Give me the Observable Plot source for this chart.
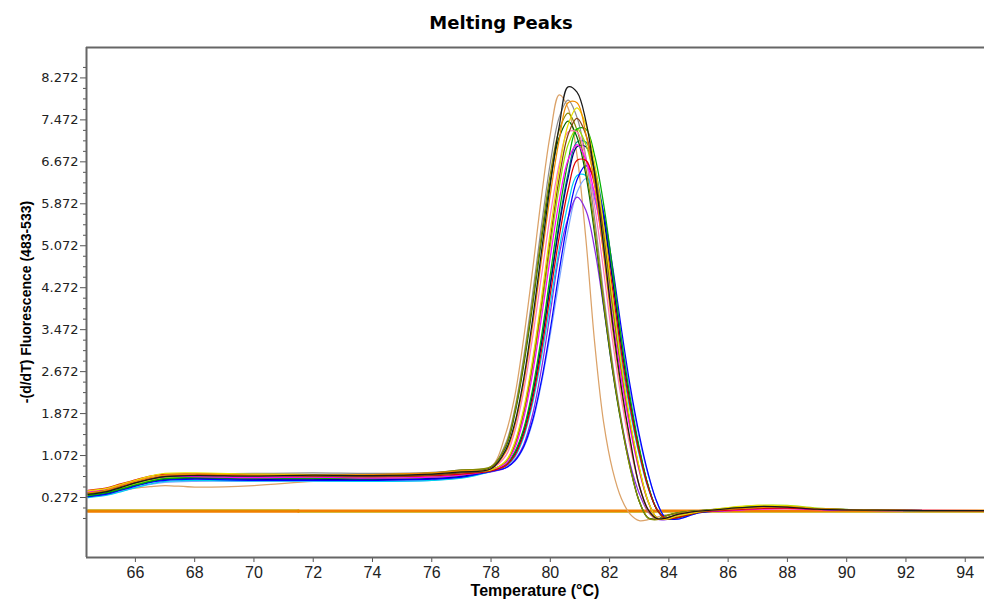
<!DOCTYPE html>
<html><head><meta charset="utf-8">
<script src="https://cdn.jsdelivr.net/npm/d3@7"></script>
<script src="https://cdn.jsdelivr.net/npm/@observablehq/plot@0.6"></script>
<style>
body{margin:0;background:#fff;}
#wrap{position:relative;width:984px;height:608px;overflow:hidden;}
#chart{position:absolute;left:0;top:0;}
#title{position:absolute;left:0;width:1002px;top:14px;text-align:center;font:bold 18px "DejaVu Sans",sans-serif;line-height:18px;color:#000;}
#ylab{position:absolute;left:26px;top:302px;transform:translate(-50%,-50%) rotate(-90deg);white-space:nowrap;font:bold 14px "Liberation Sans",Arial,sans-serif;color:#000;}
#xlab{position:absolute;left:535px;top:591px;transform:translate(-50%,-50%);white-space:nowrap;font:bold 16px "Liberation Sans",Arial,sans-serif;color:#000;}
g[aria-label="y-axis tick label"]{font-family:"DejaVu Sans",sans-serif;font-size:13px;fill:#222;}
g[aria-label="x-axis tick label"]{font-family:"Liberation Sans",Arial,sans-serif;font-size:16px;fill:#222;}
</style></head>
<body>
<div id="wrap">
  <div id="chart"></div>
  <div id="title">Melting Peaks</div>
  <div id="ylab">-(d/dT) Fluorescence (483-533)</div>
  <div id="xlab">Temperature (°C)</div>
</div>
<script>
// Temperature grid (°C) shared by all samples
const temps = [64.4, 65, 65.5, 66, 66.5, 67, 68, 70, 72, 74, 76, 77,
  78, 78.5, 78.8, 79.1, 79.4, 79.7, 80, 80.3, 80.6, 80.9, 81.2, 81.5, 81.8, 82.1, 82.4, 82.7, 83, 83.3, 83.6, 83.9, 84.3, 85,
  86, 87, 88, 89, 91, 94.7];

// -(d/dT) fluorescence values, one array per sample
const tanSample = [0.30, 0.34, 0.40, 0.45, 0.48, 0.50, 0.47, 0.50, 0.58, 0.62, 0.66, 0.72,
  0.85, 1.50, 2.20, 3.30, 4.60, 6.00, 7.20, 7.95, 7.70, 6.80, 5.20, 3.20, 1.70, 0.80, 0.25, -0.05, -0.17, -0.15, -0.10, -0.06, -0.03, 0.00,
  0.03, 0.06, 0.07, 0.05, 0.03, 0.02];
const graySample = [0.33, 0.38, 0.46, 0.55, 0.63, 0.69, 0.72, 0.73, 0.74, 0.73, 0.75, 0.80,
  0.86, 1.31, 1.96, 2.94, 4.14, 5.45, 6.65, 7.52, 7.85, 7.52, 6.76, 5.56, 4.14, 2.83, 1.74, 0.87, 0.20, -0.12, -0.14, -0.08, -0.02, 0.02,
  0.07, 0.10, 0.09, 0.06, 0.03, 0.02];
const lightBlueSample = [0.28, 0.32, 0.39, 0.46, 0.52, 0.56, 0.58, 0.58, 0.58, 0.58, 0.60, 0.65,
  0.77, 0.84, 0.96, 1.22, 1.70, 2.45, 3.38, 4.41, 5.38, 6.09, 6.35, 6.09, 5.47, 4.50, 3.35, 2.29, 1.41, 0.71, 0.18, -0.12, -0.14, -0.02,
  0.06, 0.10, 0.10, 0.06, 0.03, 0.02];
const purpleSample = [0.34, 0.38, 0.45, 0.53, 0.60, 0.64, 0.65, 0.63, 0.62, 0.62, 0.64, 0.68,
  0.76, 0.84, 0.99, 1.28, 1.85, 2.72, 3.80, 4.90, 5.60, 6.00, 5.75, 5.00, 3.90, 2.70, 1.70, 0.90, 0.35, 0.00, -0.14, -0.15, -0.08, -0.01,
  0.02, 0.06, 0.07, 0.05, 0.02, 0.01];
const cyanSample = [0.27, 0.31, 0.38, 0.46, 0.53, 0.58, 0.60, 0.59, 0.59, 0.58, 0.60, 0.64,
  0.77, 0.87, 1.04, 1.42, 2.06, 2.95, 3.97, 5.01, 5.87, 6.41, 6.41, 5.96, 5.15, 4.06, 2.89, 1.90, 1.08, 0.45, 0.04, -0.13, -0.11, -0.01,
  0.07, 0.11, 0.10, 0.06, 0.03, 0.02];
const tealSample = [0.29, 0.34, 0.42, 0.50, 0.57, 0.61, 0.63, 0.62, 0.63, 0.62, 0.64, 0.69,
  0.79, 0.90, 1.12, 1.55, 2.26, 3.24, 4.37, 5.51, 6.45, 7.05, 7.05, 6.55, 5.66, 4.47, 3.18, 2.09, 1.19, 0.50, 0.04, -0.13, -0.11, -0.01,
  0.06, 0.10, 0.09, 0.05, 0.03, 0.02];
const navySample = [0.30, 0.35, 0.42, 0.50, 0.57, 0.62, 0.63, 0.62, 0.62, 0.61, 0.63, 0.67,
  0.79, 0.89, 1.10, 1.52, 2.22, 3.19, 4.31, 5.44, 6.37, 6.96, 6.96, 6.47, 5.59, 4.41, 3.14, 2.06, 1.18, 0.49, 0.04, -0.13, -0.11, -0.01,
  0.04, 0.08, 0.08, 0.05, 0.03, 0.02];
const blueSample = [0.29, 0.33, 0.41, 0.49, 0.56, 0.60, 0.62, 0.60, 0.60, 0.60, 0.62, 0.66,
  0.77, 0.84, 0.97, 1.24, 1.74, 2.50, 3.48, 4.59, 5.59, 6.33, 6.60, 6.33, 5.69, 4.68, 3.48, 2.38, 1.47, 0.73, 0.18, -0.12, -0.14, -0.02,
  0.03, 0.07, 0.08, 0.05, 0.03, 0.02];
const darkGreenSample = [0.34, 0.39, 0.47, 0.55, 0.62, 0.66, 0.68, 0.67, 0.68, 0.68, 0.71, 0.75,
  0.85, 1.24, 1.86, 2.79, 3.93, 5.18, 6.31, 7.14, 7.45, 7.14, 6.42, 5.28, 3.93, 2.69, 1.66, 0.83, 0.20, -0.12, -0.14, -0.08, -0.02, 0.02,
  0.05, 0.09, 0.09, 0.05, 0.03, 0.01];
const oliveSample = [0.35, 0.40, 0.48, 0.56, 0.63, 0.68, 0.70, 0.68, 0.69, 0.70, 0.74, 0.80,
  0.86, 1.27, 1.90, 2.85, 4.00, 5.28, 6.44, 7.28, 7.60, 7.28, 6.54, 5.38, 4.00, 2.74, 1.69, 0.82, 0.20, -0.12, -0.15, -0.08, -0.02, 0.02,
  0.06, 0.09, 0.08, 0.05, 0.03, 0.01];
const limeSample = [0.32, 0.37, 0.45, 0.53, 0.60, 0.65, 0.66, 0.66, 0.65, 0.66, 0.69, 0.73,
  0.80, 0.95, 1.26, 1.86, 2.75, 3.85, 5.07, 6.19, 7.00, 7.30, 7.00, 6.29, 5.17, 3.85, 2.64, 1.62, 0.81, 0.20, -0.12, -0.14, -0.08, 0.00,
  0.07, 0.12, 0.12, 0.07, 0.03, 0.02];
const greenSample = [0.31, 0.36, 0.43, 0.51, 0.58, 0.63, 0.65, 0.64, 0.64, 0.63, 0.66, 0.70,
  0.79, 0.90, 1.14, 1.58, 2.33, 3.34, 4.52, 5.71, 6.68, 7.30, 7.30, 6.78, 5.86, 4.63, 3.29, 2.16, 1.23, 0.50, 0.04, -0.13, -0.11, -0.01,
  0.04, 0.09, 0.10, 0.06, 0.03, 0.02];
const pinkSample = [0.37, 0.42, 0.50, 0.58, 0.64, 0.68, 0.69, 0.67, 0.67, 0.66, 0.68, 0.73,
  0.82, 1.07, 1.53, 2.30, 3.32, 4.49, 5.66, 6.63, 7.24, 7.24, 6.73, 5.81, 4.59, 3.26, 2.14, 1.22, 0.50, 0.04, -0.13, -0.12, -0.05, 0.01,
  0.03, 0.07, 0.08, 0.05, 0.03, 0.02];
const magentaSample = [0.38, 0.42, 0.49, 0.57, 0.63, 0.67, 0.67, 0.65, 0.66, 0.64, 0.66, 0.70,
  0.79, 0.92, 1.21, 1.78, 2.63, 3.69, 4.86, 5.93, 6.71, 7.00, 6.71, 6.03, 4.96, 3.69, 2.53, 1.56, 0.78, 0.19, -0.12, -0.14, -0.08, 0.00,
  0.02, 0.05, 0.06, 0.04, 0.03, 0.02];
const redSample = [0.41, 0.45, 0.53, 0.61, 0.68, 0.72, 0.72, 0.70, 0.68, 0.67, 0.69, 0.72,
  0.78, 0.88, 1.07, 1.47, 2.14, 3.07, 4.15, 5.24, 6.14, 6.70, 6.70, 6.23, 5.38, 4.25, 3.02, 1.98, 1.13, 0.47, 0.04, -0.13, -0.11, -0.01,
  0.03, 0.06, 0.07, 0.05, 0.03, 0.01];
const brownSample = [0.36, 0.41, 0.48, 0.56, 0.63, 0.68, 0.70, 0.69, 0.68, 0.67, 0.70, 0.74,
  0.80, 0.96, 1.29, 1.91, 2.82, 3.96, 5.21, 6.36, 7.19, 7.50, 7.19, 6.46, 5.31, 3.96, 2.71, 1.67, 0.83, 0.20, -0.12, -0.14, -0.08, 0.00,
  0.05, 0.08, 0.09, 0.06, 0.03, 0.02];
const yellowSample = [0.40, 0.44, 0.52, 0.60, 0.68, 0.73, 0.74, 0.72, 0.71, 0.70, 0.73, 0.77,
  0.80, 0.97, 1.32, 1.96, 2.90, 4.07, 5.35, 6.53, 7.38, 7.70, 7.38, 6.63, 5.46, 4.07, 2.78, 1.71, 0.85, 0.20, -0.12, -0.14, -0.08, 0.00,
  0.08, 0.12, 0.11, 0.06, 0.03, 0.02];
const orangeSample = [0.36, 0.41, 0.50, 0.58, 0.65, 0.70, 0.72, 0.70, 0.70, 0.71, 0.74, 0.78,
  0.82, 1.14, 1.64, 2.45, 3.54, 4.80, 6.05, 7.09, 7.80, 7.80, 7.20, 6.21, 4.90, 3.49, 2.29, 1.31, 0.50, 0.02, -0.14, -0.12, -0.05, 0.01,
  0.05, 0.08, 0.10, 0.06, 0.03, 0.02];
const blackSample = [0.33, 0.38, 0.46, 0.55, 0.62, 0.67, 0.69, 0.68, 0.70, 0.69, 0.72, 0.76,
  0.82, 1.18, 1.69, 2.53, 3.66, 4.95, 6.24, 7.35, 8.10, 8.00, 7.45, 6.41, 5.06, 3.60, 2.36, 1.35, 0.50, 0.04, -0.13, -0.12, -0.05, 0.01,
  0.06, 0.10, 0.09, 0.05, 0.03, 0.02];

// Negative controls (flat lines)
const flatTemps = [64.4, 71.5, 94.7];
const goldControl = [0.025, 0.005, 0.005];
const orangeControl = [0.005, 0.02, 0.02];

// Drawing order and colours
const sampleValues = [tanSample, graySample, lightBlueSample, purpleSample, cyanSample, tealSample, navySample, blueSample, darkGreenSample, oliveSample, limeSample, greenSample, pinkSample, magentaSample, redSample, brownSample, yellowSample, orangeSample, blackSample];
const sampleColors = ["#dba268","#8c8c8c","#7fa8ff","#8a2be2","#00d0f0","#008b8b","#000080","#0000ff","#006400","#8a8a00","#9be000","#00b000","#ff78b8","#ff00ff","#e00000","#8b4513","#e8e000","#f08c00","#1a1a1a"];

// Axis ticks
const xTicks = [66, 68, 70, 72, 74, 76, 78, 80, 82, 84, 86, 88, 90, 92, 94];
const yTicks = [0.272, 1.072, 1.872, 2.672, 3.472, 4.272, 5.072, 5.872, 6.672, 7.472, 8.272];
const yMinorTicks = d3.range(0, 44).map(i => +(-0.128 + i * 0.2).toFixed(3)).filter(v => !yTicks.some(t => Math.abs(t - v) < 1e-6));

const xDomain = [64.35, 94.65];
const yDomain = [-0.872, 8.852];

const lineMarks = sampleValues.map((vals, k) =>
  Plot.line(temps.map((t, i) => ({t, v: vals[i]})), {x: "t", y: "v", stroke: sampleColors[k], strokeWidth: 1.25, curve: "catmull-rom", clip: true})
);

const chart = Plot.plot({
  width: 984, height: 608,
  marginLeft: 86, marginTop: 47, marginBottom: 51, marginRight: 0,
  x: {domain: xDomain},
  y: {domain: yDomain},
  marks: [
    Plot.axisY({ticks: yMinorTicks, tickSize: 3, tickFormat: () => "", stroke: "#555", label: null}),
    Plot.axisY({ticks: yTicks, tickSize: 6, tickPadding: 2, tickFormat: d3.format(".3f"), stroke: "#555", label: null}),
    Plot.axisX({ticks: xTicks, tickSize: 5, tickPadding: 4, tickFormat: d => String(d), stroke: "#555", label: null}),
    Plot.line(flatTemps.map((t, i) => ({t, v: goldControl[i]})), {x: "t", y: "v", stroke: "#c8a400", strokeWidth: 2.5, curve: "step-after", clip: true}),
    Plot.line(flatTemps.map((t, i) => ({t, v: orangeControl[i]})), {x: "t", y: "v", stroke: "#f08000", strokeWidth: 2.5, curve: "step-after", clip: true}),
    ...lineMarks,
    Plot.ruleX([xDomain[0]], {stroke: "#666", strokeWidth: 2}),
    Plot.ruleY(yDomain, {stroke: "#666", strokeWidth: 2})
  ]
});
document.getElementById("chart").appendChild(chart);
</script>
</body></html>
